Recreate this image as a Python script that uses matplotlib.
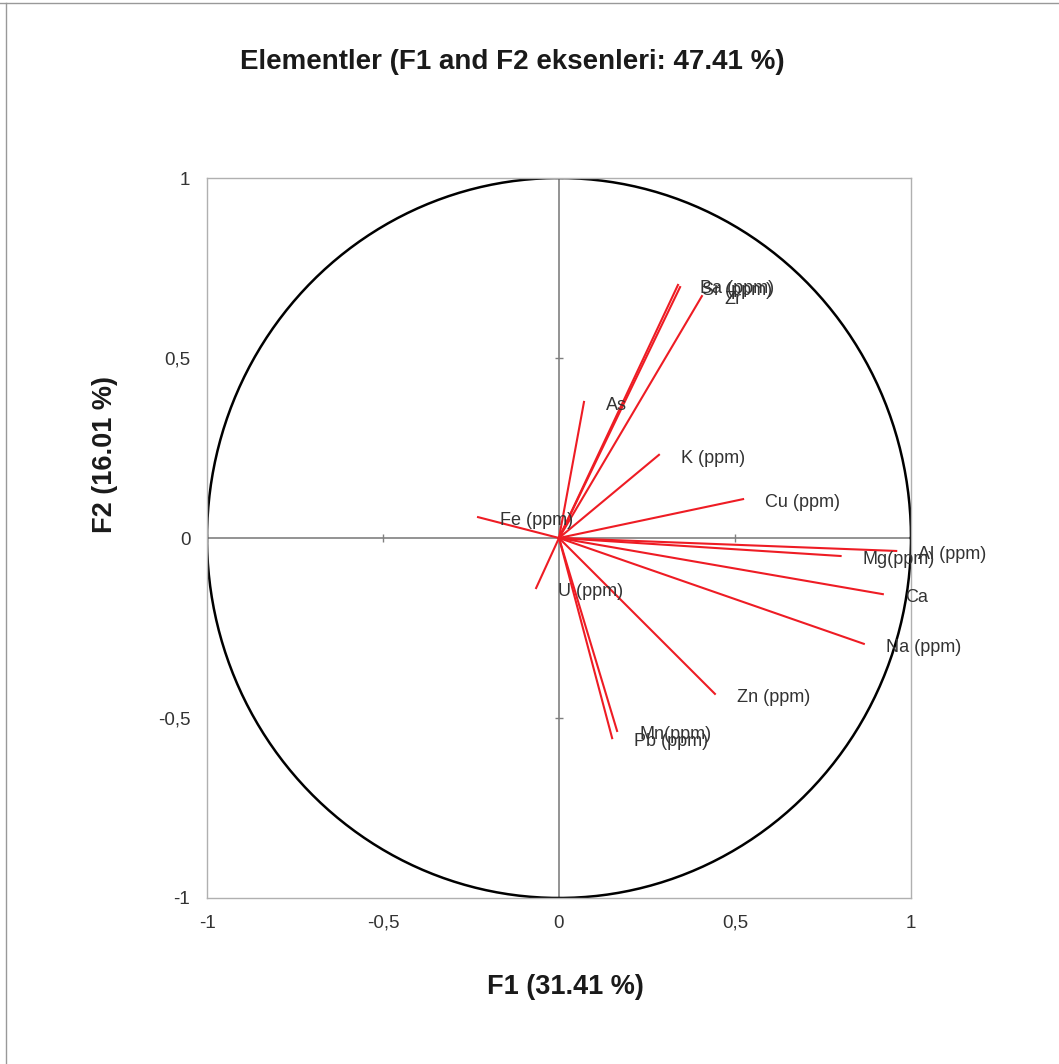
import numpy as np
import matplotlib
matplotlib.use("Agg")
import matplotlib.pyplot as plt
from matplotlib.lines import Line2D

plt.rcParams['font.family'] = ['Liberation Sans', 'DejaVu Sans']

# variable loadings on F1 / F2
names = ["Ba (ppm)", "Sr (ppm)", "Zr", "As", "K (ppm)", "Cu (ppm)", "Fe (ppm)",
         "Al (ppm)", "Mg(ppm)", "Ca", "Na (ppm)", "Zn (ppm)", "Mn(ppm)",
         "Pb (ppm)", "U (ppm)"]
f1 = [0.338, 0.344, 0.406, 0.071, 0.284, 0.523, -0.230,
      0.958, 0.800, 0.920, 0.866, 0.443, 0.165, 0.151, -0.065]
f2 = [0.703, 0.697, 0.672, 0.378, 0.231, 0.108, 0.058,
      -0.036, -0.050, -0.156, -0.294, -0.433, -0.536, -0.556, -0.139]

ticks = [-1, -0.5, 0, 0.5, 1]
tick_labels = ["-1", "-0,5", "0", "0,5", "1"]

fig = plt.figure(figsize=(10.59, 10.64), dpi=100)
ax = fig.add_axes([207 / 1059, 1 - 898 / 1064, 704 / 1059, 720 / 1064])

ax.axhline(0, color="#808080", lw=1.2, zorder=1)
ax.axvline(0, color="#808080", lw=1.2, zorder=1)
# small tick marks sitting on the zero lines
ax.plot([t for t in ticks if t != 0], [0] * 4, ls="none", marker="|",
        ms=6, color="#808080", mew=1.0, zorder=1)
ax.plot([0] * 4, [t for t in ticks if t != 0], ls="none", marker="_",
        ms=6, color="#808080", mew=1.0, zorder=1)

th = np.linspace(0, 2 * np.pi, 400)
ax.plot(np.cos(th), np.sin(th), color="black", lw=1.8, zorder=2)

for n, x, y in zip(names, f1, f2):
    ax.plot([0, x], [0, y], color="#ee1c24", lw=1.5, zorder=3)
    ax.annotate(n, (x, y), xytext=(16, -2.5), textcoords="offset points",
                va="center", ha="left", fontsize=13, color="#333333", zorder=4)

ax.set_xlim(-1, 1)
ax.set_ylim(-1, 1)
ax.set_xticks(ticks)
ax.set_xticklabels(tick_labels)
ax.set_yticks(ticks)
ax.set_yticklabels(tick_labels)
ax.tick_params(length=0, labelsize=13.5, labelcolor="#333333")
ax.tick_params(axis="x", pad=12)
ax.tick_params(axis="y", pad=12)
for s in ax.spines.values():
    s.set_color("#b0b0b0")
    s.set_linewidth(1.0)

fig.text(512 / 1059, 1 - 62 / 1064, "Elementler (F1 and F2 eksenleri: 47.41 %)",
         ha="center", va="center", fontsize=20, fontweight="bold", color="#1a1a1a")
fig.text(565 / 1059, 1 - 987 / 1064, "F1 (31.41 %)", ha="center", va="center",
         fontsize=19.5, fontweight="bold", color="#1a1a1a")
fig.text(105 / 1059, 1 - 455 / 1064, "F2 (16.01 %)", ha="center", va="center",
         rotation=90, fontsize=19.5, fontweight="bold", color="#1a1a1a")

# frame lines at the image edges
fig.add_artist(Line2D([0, 1], [1 - 3 / 1064] * 2, color="#999999", lw=1.0))
fig.add_artist(Line2D([6 / 1059] * 2, [0, 1 - 3 / 1064], color="#999999", lw=1.0))

fig.savefig("out.png", dpi=100)
